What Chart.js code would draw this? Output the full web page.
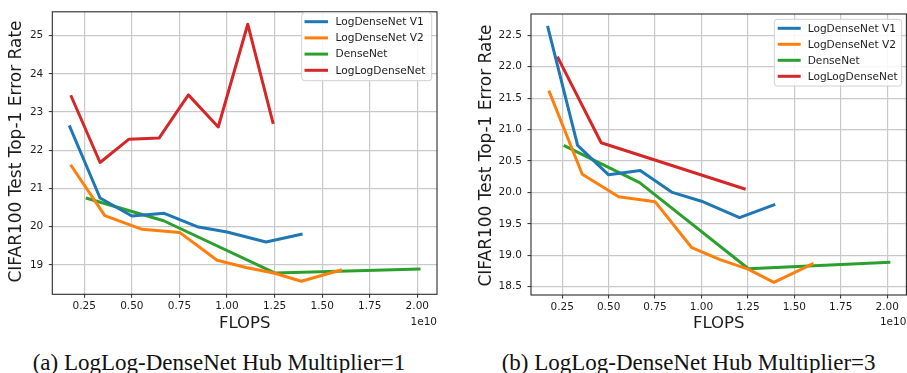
<!DOCTYPE html>
<html>
<head>
<meta charset="utf-8">
<script src="https://cdn.jsdelivr.net/npm/chart.js@4/dist/chart.umd.min.js"></script>
<style>
  html, body { margin: 0; padding: 0; background: #ffffff; }
  body { width: 907px; height: 373px; position: relative; overflow: hidden; }
  canvas { position: absolute; top: 0; }
  #cA { left: 0; }
  #cB { left: 455px; }
  .cap { position: absolute; top: 349.5px; line-height: 26px; font-family: "Liberation Serif", "Times New Roman", serif; font-size: 23px; color: #111; white-space: nowrap; }
</style>
</head>
<body>
<canvas id="cA" width="455" height="340"></canvas>
<canvas id="cB" width="452" height="340"></canvas>
<div class="cap" style="left:32.7px">(a) LogLog-DenseNet Hub Multiplier=1</div>
<div class="cap" style="left:501.7px">(b) LogLog-DenseNet Hub Multiplier=3</div>
<script>
// ---- data (FLOPS in units of 1e10, error rate %) ----
const seriesNames = ['LogDenseNet V1', 'LogDenseNet V2', 'DenseNet', 'LogLogDenseNet'];
const seriesColors = ['#1f77b4', '#ff7f0e', '#2ca02c', '#d62728'];

const xV1 = [0.171, 0.333, 0.500, 0.670, 0.843, 1.000, 1.205, 1.397];
const yV1 = [22.65, 20.75, 20.28, 20.35, 20.00, 19.86, 19.60, 19.81];

const xV2 = [0.178, 0.358, 0.554, 0.751, 0.948, 1.100, 1.251, 1.390, 1.604];
const yV2 = [21.62, 20.29, 19.93, 19.85, 19.12, 18.93, 18.78, 18.57, 18.87];

const xDense = [0.258, 0.667, 1.253, 2.017];
const yDense = [20.75, 20.155, 18.785, 18.89];

const xLogLog1 = [0.179, 0.333, 0.485, 0.643, 0.797, 0.954, 1.109, 1.243];
const yLogLog1 = [23.44, 21.68, 22.29, 22.32, 23.45, 22.61, 25.30, 22.69];

const xLogLog3 = [0.224, 0.460, 1.238];
const yLogLog3 = [22.16, 20.79, 20.05];

const xTicks = [0.25, 0.50, 0.75, 1.00, 1.25, 1.50, 1.75, 2.00];
const xTickLabels = ['0.25', '0.50', '0.75', '1.00', '1.25', '1.50', '1.75', '2.00'];
const yTicksA = [19, 20, 21, 22, 23, 24, 25];
const yTickLabelsA = ['19', '20', '21', '22', '23', '24', '25'];
const yTicksB = [18.5, 19.0, 19.5, 20.0, 20.5, 21.0, 21.5, 22.0, 22.5];
const yTickLabelsB = ['18.5', '19.0', '19.5', '20.0', '20.5', '21.0', '21.5', '22.0', '22.5'];

const xTitle = 'FLOPS';
const xOffsetText = '1e10';
const yTitle = 'CIFAR100 Test Top-1 Error Rate';

// ---- helpers ----
function pts(xs, ys) { return xs.map((x, i) => ({ x: x, y: ys[i] })); }
function makeDatasets(xLL, yLL) {
  const xs = [xV1, xV2, xDense, xLL];
  const ys = [yV1, yV2, yDense, yLL];
  return seriesNames.map((name, i) => ({
    label: name,
    data: pts(xs[i], ys[i]),
    borderColor: seriesColors[i],
    backgroundColor: seriesColors[i],
    borderWidth: 3,
    pointRadius: 0,
    pointHoverRadius: 0,
    tension: 0,
    fill: false,
    borderJoinStyle: 'round',
    borderCapStyle: 'butt'
  }));
}

const TEXT = '#1c1c1c';
const FONT = '"DejaVu Sans", Verdana, sans-serif';

const decor = {
  id: 'decor',
  afterDraw(chart, args, o) {
    const ctx = chart.ctx;
    const a = chart.chartArea;
    ctx.save();
    // spines
    ctx.strokeStyle = '#2a2a2a';
    ctx.lineWidth = 1.1;
    ctx.strokeRect(a.left, a.top, a.right - a.left, a.bottom - a.top);
    // legend
    const L = o.legend;
    ctx.beginPath();
    ctx.roundRect(L.x, L.y, L.w, L.h, 3);
    ctx.fillStyle = 'rgba(255,255,255,0.85)';
    ctx.fill();
    ctx.strokeStyle = '#d0d0d0';
    ctx.lineWidth = 1;
    ctx.stroke();
    ctx.font = '10.6px ' + FONT;
    ctx.textAlign = 'left';
    ctx.textBaseline = 'middle';
    chart.data.datasets.forEach((ds, i) => {
      const yy = L.row0 + i * L.rowStep;
      ctx.strokeStyle = ds.borderColor;
      ctx.lineWidth = 3;
      ctx.beginPath();
      ctx.moveTo(L.hx0, yy);
      ctx.lineTo(L.hx1, yy);
      ctx.stroke();
      ctx.fillStyle = TEXT;
      ctx.fillText(ds.label, L.tx, yy + 0.5);
    });
    // axis titles
    ctx.fillStyle = TEXT;
    ctx.font = '16.5px ' + FONT;
    ctx.textAlign = 'center';
    ctx.textBaseline = 'alphabetic';
    ctx.fillText(xTitle, (a.left + a.right) / 2, 328.4);
    ctx.font = '10.5px ' + FONT;
    ctx.textAlign = 'right';
    ctx.fillText(xOffsetText, a.right, 325);
    ctx.save();
    ctx.translate(o.yTitleX, o.yTitleY);
    ctx.rotate(-Math.PI / 2);
    ctx.font = '17px ' + FONT;
    ctx.textAlign = 'center';
    ctx.textBaseline = 'middle';
    ctx.fillText(yTitle, 0, 0);
    ctx.restore();
    ctx.restore();
  }
};

function makeConfig(datasets, yMin, yMax, yTicks, yLabels, yAxisWidth, pad, decorOpts) {
  return {
    type: 'line',
    data: { datasets: datasets },
    plugins: [decor],
    options: {
      responsive: false,
      animation: false,
      devicePixelRatio: 1,
      layout: { padding: pad },
      plugins: {
        legend: { display: false },
        tooltip: { enabled: false },
        decor: decorOpts
      },
      scales: {
        x: {
          type: 'linear',
          min: 0.082,
          max: 2.1035,
          afterBuildTicks: ax => { ax.ticks = xTicks.map(v => ({ value: v })); },
          afterFit: ax => { ax.height = 340 - decorOpts.plotBottom; },
          grid: { color: '#c9c9c9', lineWidth: 1.2, tickLength: 3.5, tickColor: '#2a2a2a', tickWidth: 1, drawTicks: true },
          border: { display: false },
          ticks: {
            autoSkip: false, maxRotation: 0, padding: 2,
            color: TEXT, font: { family: FONT, size: 10.5 },
            callback: (v, i) => xTickLabels[i]
          }
        },
        y: {
          type: 'linear',
          min: yMin,
          max: yMax,
          afterBuildTicks: ax => { ax.ticks = yTicks.map(v => ({ value: v })); },
          afterFit: ax => { ax.width = yAxisWidth; },
          grid: { color: '#c9c9c9', lineWidth: 1.2, tickLength: 3.5, tickColor: '#2a2a2a', tickWidth: 1, drawTicks: true },
          border: { display: false },
          ticks: {
            autoSkip: false, padding: 5.5,
            color: TEXT, font: { family: FONT, size: 10.5 },
            callback: (v, i) => yLabels[i]
          }
        }
      }
    }
  };
}

new Chart(document.getElementById('cA'), makeConfig(
  makeDatasets(xLogLog1, yLogLog1),
  18.229, 25.625, yTicksA, yTickLabelsA, 52.3,
  { left: 0, top: 6.7, right: 18, bottom: 0 },
  {
    plotBottom: 294.3,
    yTitleX: 16.7, yTitleY: 151.5,
    legend: { x: 301.7, y: 12.7, w: 130, h: 68, hx0: 304.5, hx1: 328, tx: 335.5, row0: 21.7, rowStep: 16.2 }
  }
));

new Chart(document.getElementById('cB'), makeConfig(
  makeDatasets(xLogLog3, yLogLog3),
  18.368, 22.839, yTicksB, yTickLabelsB, 76,
  { left: 0, top: 14, right: 0.6, bottom: 0 },
  {
    plotBottom: 295,
    yTitleX: 31.3, yTitleY: 155.5,
    legend: { x: 319.3, y: 19.3, w: 127.4, h: 66.7, hx0: 322.7, hx1: 345.7, tx: 352.7, row0: 28.3, rowStep: 16 }
  }
));
</script>
</body>
</html>
